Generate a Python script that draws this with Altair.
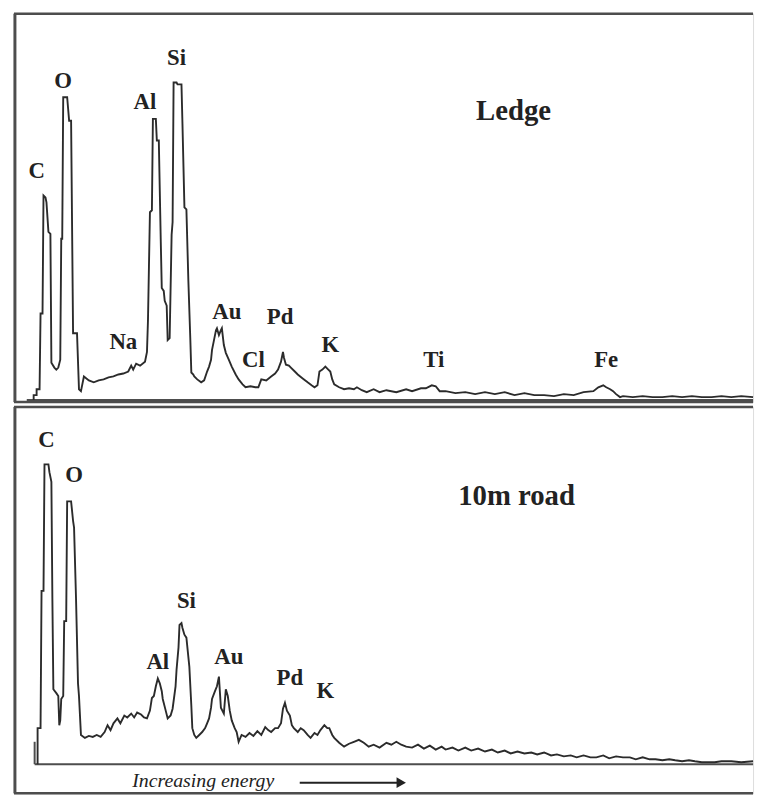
import altair as alt
import pandas as pd

# ---- data: energy channel (arbitrary units), counts (arbitrary units) ----
ledge_points = [
    (-1,0),(-1,5),(2,5),(2,11),(5,11),(6,88),(8,88),(9,208),(11,206),(12,201),(14,171),(16,169),
    (17,38),(20,33),(22,31),(24,33),(26,41),(27,164),(28,164),(29,308),(33,308),(34,296),(35,284),
    (37,284),(39,68),(43,68),(45,11),(47,9),(50,24),(55,20),(60,18),(65,20),(70,21),(75,23),(80,24),
    (85,26),(90,27),(95,29),(98,35),(100,31),(103,37),(107,35),(112,39),(114,49),(115,81),(116,136),
    (117,191),(119,193),(120,286),(123,286),(124,264),(126,264),(128,161),(129,114),(131,111),
    (132,101),(134,96),(135,61),(137,63),(139,168),(140,181),(141,323),(144,323),(145,321),(149,321),
    (150,281),(152,196),(154,194),(156,121),(158,61),(159,28),(161,26),(162,24),(165,21),(169,18),
    (172,20),(175,29),(177,34),(179,41),(180,51),(182,61),(184,71),(185,73),(187,66),(189,71),
    (190,73),(192,56),(194,48),(197,41),(200,34),(204,26),(207,21),(211,16),(214,13),(219,14),
    (224,13),(227,13),(230,21),(235,20),(240,24),(244,27),(247,31),(250,39),(252,49),(253,43),
    (255,36),(258,35),(260,33),(264,29),(267,26),(272,22),(277,18),(281,15),(284,13),(287,15),
    (289,29),(292,31),(295,34),(298,31),(300,29),(302,21),(304,16),(309,13),(314,11),(319,12),
    (324,11),(327,13),(332,10),(337,8),(344,11),(350,8),(357,10),(367,8),(377,11),(383,9),(392,12),
    (397,12),(403,15),(407,14),(411,9),(417,9),(427,7),(437,8),(447,6),(457,8),(467,6),(477,8),
    (487,5),(497,7),(507,5),(517,5),(527,4),(537,6),(547,5),(557,8),(567,9),(572,13),(577,15),
    (580,13),(584,11),(587,9),(590,6),(594,3),(597,4),(607,3),(617,4),(627,3),(637,3),(647,4),
    (657,3),(667,4),(677,3),(687,3),(697,4),(707,3),(717,4),(729,3),
]

road_points = [
    (3,0),(3,37),(6,37),(7,178),(9,178),(10,308),(14,308),(15,300),(17,290),(18,170),(19,77),
    (22,73),(24,70),(25,40),(26,45),(27,67),(29,70),(30,147),(32,147),(33,270),(37,270),(39,250),
    (40,243),(42,170),(44,83),(45,70),(47,30),(51,27),(55,29),(59,28),(63,30),(67,28),(71,33),
    (74,40),(77,35),(80,42),(84,47),(87,42),(91,50),(94,48),(98,52),(101,48),(104,53),(108,51),
    (111,48),(114,47),(117,55),(119,68),(121,70),(123,80),(125,88),(127,83),(129,75),(130,67),
    (133,55),(135,47),(138,50),(140,57),(143,80),(144,97),(146,120),(147,143),(149,145),(150,140),
    (152,133),(154,130),(156,110),(157,100),(159,60),(160,37),(162,30),(164,27),(167,30),(170,33),
    (173,37),(175,42),(177,47),(179,58),(180,67),(183,75),(185,80),(187,90),(189,58),(192,52),
    (194,77),(196,70),(198,55),(200,45),(203,37),(205,33),(207,23),(210,30),(214,28),(218,32),
    (222,29),(226,34),(230,30),(234,38),(237,35),(240,33),(244,37),(247,37),(250,42),(252,57),
    (254,63),(256,55),(259,50),(261,40),(263,37),(267,33),(270,37),(273,35),(277,30),(280,27),
    (284,32),(287,30),(290,35),(294,40),(297,37),(299,37),(302,30),(304,27),(309,22),(314,18),
    (319,21),(324,23),(329,25),(334,22),(339,18),(344,20),(350,17),(357,22),(362,20),(367,23),
    (372,20),(377,18),(383,17),(389,20),(395,16),(401,19),(407,15),(413,18),(417,15),(424,17),
    (430,14),(437,17),(443,14),(450,16),(457,13),(464,15),(470,12),(477,14),(483,11),(490,13),
    (497,11),(504,12),(510,10),(517,12),(524,9),(530,10),(537,8),(544,9),(550,7),(557,9),
    (564,7),(570,7),(577,9),(583,6),(590,8),(597,7),(604,7),(610,5),(617,7),(624,5),(630,5),
    (637,4),(644,5),(650,4),(657,3),(664,4),(670,3),(677,2),(683,2),(690,2),(697,3),(707,3),
    (717,2),(729,3),
]

ledge_labels = ["C", "O", "Al", "Si", "Na", "Au", "Cl", "Pd", "K", "Ti", "Fe"]
ledge_label_channel = [2, 29, 112, 144, 90, 195, 222, 249, 300, 405, 580]
ledge_label_counts = [233, 324, 303, 348, 59, 89, 41, 84, 56, 41, 41]

road_labels = ["C", "O", "Al", "Si", "Au", "Pd", "K"]
road_label_channel = [12, 40, 125, 154, 197, 259, 295]
road_label_counts = [333, 297, 105, 168, 110, 88, 75]

X_DOMAIN = [-21, 729]
W = 746
H_TOP, H_BOT = 392, 390
TOP_DOMAIN = [-2, 393]
BOT_DOMAIN = [-30, 367]

SERIF = "Liberation Serif"
LINE = "#2b2b2b"
FRAME = "#4d4d4d"


def spectrum_panel(points, labels, lch, lct, title, title_pos, ydomain, height, bottom):
    xs = alt.Scale(domain=X_DOMAIN, nice=False, zero=False)
    ys = alt.Scale(domain=ydomain, nice=False, zero=False)
    spec = pd.DataFrame(points, columns=["channel", "counts"])
    spec["order"] = range(len(spec))
    lab = pd.DataFrame({"channel": lch, "counts": lct, "label": labels})
    ttl = pd.DataFrame({"channel": [title_pos[0]], "counts": [title_pos[1]], "label": [title]})

    line = alt.Chart(spec).mark_line(color=LINE, strokeWidth=1.9, interpolate="linear").encode(
        x=alt.X("channel:Q", scale=xs, axis=None),
        y=alt.Y("counts:Q", scale=ys, axis=None),
        order="order:Q",
    )
    text = alt.Chart(lab).mark_text(font=SERIF, fontWeight="bold", fontSize=23, color="#222",
                                    align="center", baseline="middle").encode(
        x=alt.X("channel:Q", scale=xs, axis=None), y=alt.Y("counts:Q", scale=ys, axis=None),
        text="label:N")
    ttext = alt.Chart(ttl).mark_text(font=SERIF, fontWeight="bold", fontSize=29, color="#222",
                                     align="center", baseline="middle").encode(
        x=alt.X("channel:Q", scale=xs, axis=None), y=alt.Y("counts:Q", scale=ys, axis=None),
        text="label:N")

    base_start = 0 if bottom else -8
    hr = pd.DataFrame({
        "x1": [base_start, X_DOMAIN[0], X_DOMAIN[0]],
        "x2": [X_DOMAIN[1], X_DOMAIN[1], X_DOMAIN[1]],
        "y": [0, ydomain[1], ydomain[0]],
        "w": [2.0, 2.5, 2.5],
    })
    hrules = alt.Chart(hr).mark_rule(color=FRAME).encode(
        x=alt.X("x1:Q", scale=xs, axis=None), x2="x2:Q",
        y=alt.Y("y:Q", scale=ys, axis=None),
        strokeWidth=alt.StrokeWidth("w:Q", scale=None),
    )
    vx = [X_DOMAIN[0] + 1]
    vy1 = [ydomain[0]]
    vy2 = [ydomain[1]]
    vw = [3.0]
    if bottom:
        vx.append(0); vy1.append(0); vy2.append(23); vw.append(2.0)
    vr = pd.DataFrame({"x": vx, "y1": vy1, "y2": vy2, "w": vw})
    vrules = alt.Chart(vr).mark_rule(color=FRAME).encode(
        x=alt.X("x:Q", scale=xs, axis=None),
        y=alt.Y("y1:Q", scale=ys, axis=None), y2="y2:Q",
        strokeWidth=alt.StrokeWidth("w:Q", scale=None),
    )

    layers = [hrules, vrules, line, text, ttext]

    if bottom:
        cap = pd.DataFrame({"channel": [171], "counts": [-17], "label": ["Increasing energy"]})
        caption = alt.Chart(cap).mark_text(font=SERIF, fontStyle="italic", fontSize=20, color="#222",
                                           align="center", baseline="middle").encode(
            x=alt.X("channel:Q", scale=xs, axis=None), y=alt.Y("counts:Q", scale=ys, axis=None),
            text="label:N")
        arr = pd.DataFrame({"x1": [269], "x2": [372], "y": [-19]})
        arrow_line = alt.Chart(arr).mark_rule(color="#222", strokeWidth=2).encode(
            x=alt.X("x1:Q", scale=xs, axis=None), x2="x2:Q", y=alt.Y("y:Q", scale=ys, axis=None))
        head = alt.Chart(arr).mark_point(shape="triangle-right", filled=True, color="#222",
                                         size=120, opacity=1).encode(
            x=alt.X("x2:Q", scale=xs, axis=None), y=alt.Y("y:Q", scale=ys, axis=None))
        layers += [caption, arrow_line, head]

    return alt.layer(*layers).properties(width=W, height=height)


top_panel = spectrum_panel(ledge_points, ledge_labels, ledge_label_channel,
                           ledge_label_counts, "Ledge", (486, 294), TOP_DOMAIN, H_TOP, False)
bot_panel = spectrum_panel(road_points, road_labels, road_label_channel,
                           road_label_counts, "10m road", (489, 275), BOT_DOMAIN, H_BOT, True)

chart = alt.vconcat(top_panel, bot_panel, spacing=0).resolve_scale(
    x="independent", y="independent"
).properties(
    padding={"left": 4, "top": 0, "right": 0, "bottom": 0}
).configure_view(strokeWidth=0).configure(background="white")

chart.save("out.html", embed_options={"renderer": "svg", "actions": False})
